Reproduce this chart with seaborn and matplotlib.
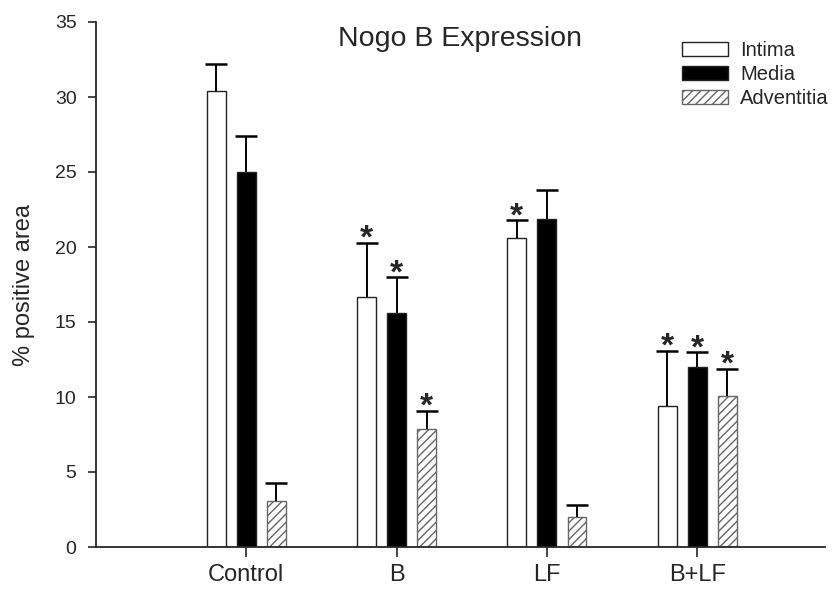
import numpy as np
import pandas as pd
import matplotlib
matplotlib.use("Agg")
import matplotlib.pyplot as plt
import seaborn as sns

groups = ["Control", "B", "LF", "B+LF"]
layers = ["Intima", "Media", "Adventitia"]

intima = [30.4, 16.7, 20.6, 9.4]
intima_err = [1.8, 3.6, 1.2, 3.7]
media = [25.0, 15.6, 21.9, 12.0]
media_err = [2.4, 2.4, 1.9, 1.0]
adventitia = [3.1, 7.9, 2.0, 10.1]
adventitia_err = [1.2, 1.2, 0.8, 1.8]

# * = significant vs control
intima_sig = [False, True, True, True]
media_sig = [False, True, False, True]
adventitia_sig = [False, True, False, True]

df = pd.DataFrame({
    "group": groups * 3,
    "layer": np.repeat(layers, len(groups)),
    "value": intima + media + adventitia,
})
errs = [intima_err, media_err, adventitia_err]
sigs = [intima_sig, media_sig, adventitia_sig]

sns.set_style("ticks")
plt.rcParams["font.family"] = ["Liberation Sans", "DejaVu Sans"]

fig = plt.figure(figsize=(8.4, 5.9), dpi=100)
ax = fig.add_axes([96 / 840, 43 / 590, 729 / 840, 525 / 590])

sns.barplot(data=df, x="group", y="value", hue="layer", order=groups,
            hue_order=layers, palette={"Intima": "white", "Media": "black", "Adventitia": "white"},
            saturation=1, width=0.6, gap=0.37, errorbar=None, edgecolor="#222222",
            linewidth=1.0, legend=False, ax=ax)

bars = list(ax.containers[:3])
for bar in bars[2]:
    bar.set_hatch("////")
    bar.set_edgecolor("#666666")

for cont, err, sig in zip(bars, errs, sigs):
    xs = np.array([b.get_x() + b.get_width() / 2 for b in cont])
    hs = np.array([b.get_height() for b in cont])
    _, caps, _ = ax.errorbar(xs, hs, yerr=[np.zeros(len(err)), err], fmt="none",
                             ecolor="black", elinewidth=1.4, capsize=8, capthick=1.8)
    caps[0].set_visible(False)  # only the upper cap
    for x, h, e, s in zip(xs, hs, err, sig):
        if s:
            ax.text(x, h + e - 0.35, "*", ha="center", va="baseline", fontsize=24,
                    fontweight="bold")

ax.set_xlim(-1.0, 3.85)
ax.set_ylim(0, 35)
ax.set_yticks(np.arange(0, 36, 5))
ax.set_xlabel("")
ax.set_ylabel("% positive area", fontsize=17)
ax.yaxis.set_label_coords(-0.083, 0.5)
ax.tick_params(axis="y", labelsize=14, length=6, width=1.2, pad=8)
ax.tick_params(axis="x", labelsize=17, length=7, width=1.2, pad=5)
for sp in ["left", "bottom"]:
    ax.spines[sp].set_linewidth(1.3)
sns.despine(ax=ax)

ax.text(0.5, 0.968, "Nogo B Expression", transform=ax.transAxes, ha="center",
        va="center", fontsize=20.5)

ax.legend(bars, layers, loc="upper left", bbox_to_anchor=(682 / 840, 1 - 41 / 590),
          bbox_transform=fig.transFigure, frameon=False, fontsize=14.5,
          handlelength=2.3, handleheight=0.7, handletextpad=0.6, labelspacing=0.25,
          borderpad=0, borderaxespad=0)

fig.savefig("out.png", dpi=100)
